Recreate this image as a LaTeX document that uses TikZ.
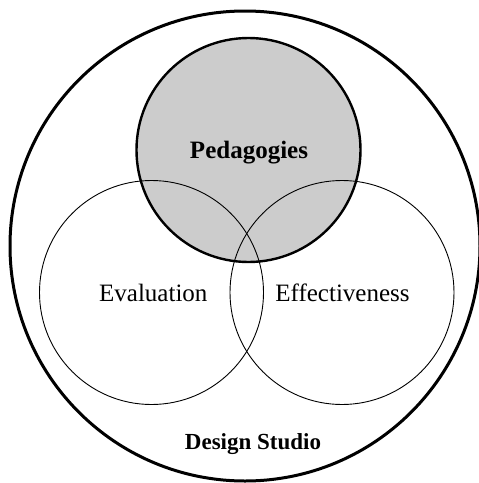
\documentclass[tikz,border=0pt]{standalone}
\usepackage{fontspec}
\setmainfont{Liberation Serif}
\begin{document}
\begin{tikzpicture}[x=1pt,y=-1pt,
  setcircle/.style={circle, draw=black, inner sep=0pt, minimum size=224pt, line width=0.9pt},
  core/.style={circle, inner sep=0pt, minimum size=224pt},
  plainlabel/.style={anchor=base, inner sep=0pt, font=\fontsize{25}{25}\selectfont},
  boldlabel/.style={anchor=base, inner sep=0pt, font=\fontsize{25}{25}\selectfont\bfseries}]
  \useasboundingbox (0,0) rectangle (479,483);
  % outer region
  \node[circle, draw=black, line width=3pt, inner sep=0pt, minimum size=470pt] (studio) at (245,246) {};
  % shaded focus circle
  \node[core, fill={rgb,255:red,204;green,204;blue,204}] (pedfill) at (248.5,150) {};
  % the two overlapping circles below
  \node[setcircle] (evaluation) at (151.5,292.5) {};
  \node[setcircle] (effectiveness) at (342,292.5) {};
  % outline of the focus circle on top
  \node[core, draw=black, line width=2.4pt] (pedagogies) at (pedfill) {};
  % labels
  \node[boldlabel] (pedtext) at (249,158.3) {Pedagogies};
  \node[plainlabel] (evaltext) at (153.3,301.7) {Evaluation};
  \node[plainlabel] (efftext) at (342.5,301.7) {Effectiveness};
  \node[boldlabel, font=\fontsize{23}{23}\selectfont\bfseries] (studiotext) at (253,449) {Design Studio};
\end{tikzpicture}
\end{document}
